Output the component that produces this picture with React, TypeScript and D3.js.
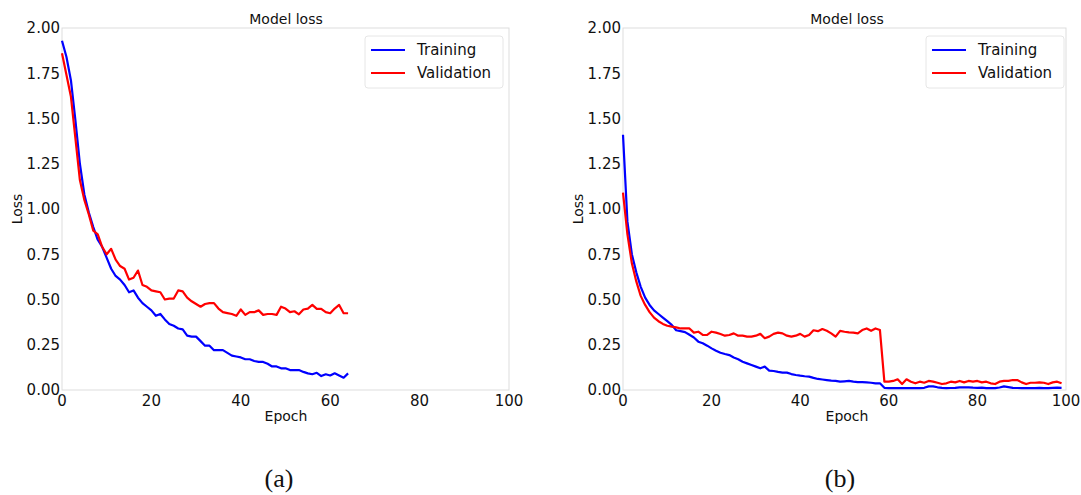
import React from 'react';
import * as d3 from 'd3';

// loss per epoch
const trainA = [1.93, 1.84, 1.71, 1.49, 1.25, 1.08, 0.98, 0.9, 0.83, 0.79, 0.73, 0.67, 0.63, 0.61, 0.58, 0.54, 0.55, 0.51, 0.48, 0.46,
  0.44, 0.41, 0.42, 0.39, 0.365, 0.355, 0.34, 0.335, 0.3, 0.295, 0.295, 0.27, 0.245, 0.245, 0.22, 0.22, 0.22, 0.205, 0.19, 0.185,
  0.18, 0.17, 0.17, 0.16, 0.155, 0.155, 0.145, 0.13, 0.13, 0.12, 0.12, 0.11, 0.11, 0.11, 0.1, 0.092, 0.087, 0.095, 0.077, 0.087,
  0.08, 0.092, 0.08, 0.068, 0.092];
const valA = [1.86, 1.74, 1.62, 1.39, 1.16, 1.05, 0.97, 0.88, 0.86, 0.79, 0.75, 0.78, 0.72, 0.685, 0.67, 0.61, 0.62, 0.66, 0.58, 0.57,
  0.55, 0.545, 0.54, 0.5, 0.505, 0.505, 0.55, 0.545, 0.51, 0.49, 0.475, 0.46, 0.475, 0.48, 0.48, 0.45, 0.43, 0.425, 0.42, 0.41,
  0.445, 0.415, 0.43, 0.43, 0.44, 0.415, 0.42, 0.42, 0.415, 0.46, 0.45, 0.43, 0.435, 0.418, 0.445, 0.45, 0.47, 0.448, 0.448, 0.43,
  0.424, 0.45, 0.47, 0.424, 0.424];

const trainB = [1.41, 0.93, 0.75, 0.65, 0.57, 0.51, 0.47, 0.44, 0.42, 0.4, 0.38, 0.36, 0.33, 0.325, 0.32, 0.305, 0.29, 0.267, 0.258, 0.245,
  0.23, 0.217, 0.206, 0.199, 0.193, 0.18, 0.17, 0.156, 0.147, 0.138, 0.129, 0.12, 0.129, 0.107, 0.105, 0.1, 0.096, 0.096, 0.088, 0.083,
  0.079, 0.076, 0.074, 0.067, 0.061, 0.058, 0.055, 0.052, 0.05, 0.046, 0.048, 0.05, 0.046, 0.044, 0.043, 0.042, 0.04, 0.037, 0.037, 0.012,
  0.01, 0.01, 0.011, 0.01, 0.01, 0.01, 0.011, 0.01, 0.012, 0.02, 0.02, 0.015, 0.012, 0.01, 0.011, 0.012, 0.015, 0.015, 0.015, 0.013,
  0.012, 0.013, 0.01, 0.01, 0.01, 0.014, 0.02, 0.016, 0.012, 0.011, 0.01, 0.01, 0.011, 0.01, 0.012, 0.01, 0.01, 0.012, 0.013, 0.012];
const valB = [1.09, 0.86, 0.7, 0.6, 0.52, 0.47, 0.43, 0.4, 0.38, 0.365, 0.355, 0.35, 0.346, 0.34, 0.34, 0.34, 0.317, 0.322, 0.304, 0.304,
  0.322, 0.317, 0.309, 0.3, 0.304, 0.313, 0.3, 0.3, 0.295, 0.295, 0.3, 0.31, 0.286, 0.295, 0.31, 0.317, 0.313, 0.3, 0.295, 0.3,
  0.31, 0.295, 0.304, 0.33, 0.325, 0.337, 0.327, 0.313, 0.295, 0.327, 0.322, 0.318, 0.317, 0.313, 0.331, 0.34, 0.327, 0.34, 0.331, 0.046,
  0.046, 0.05, 0.059, 0.033, 0.059, 0.046, 0.037, 0.046, 0.04, 0.05, 0.046, 0.04, 0.033, 0.037, 0.046, 0.042, 0.05, 0.042, 0.05, 0.046,
  0.05, 0.042, 0.046, 0.037, 0.033, 0.046, 0.05, 0.05, 0.055, 0.055, 0.042, 0.033, 0.04, 0.04, 0.042, 0.04, 0.033, 0.042, 0.046, 0.037];

const xTicks = [0, 20, 40, 60, 80, 100];
const yTicks = [0, 0.25, 0.5, 0.75, 1.0, 1.25, 1.5, 1.75, 2.0];
const seriesNames = ['Training', 'Validation'];
const seriesColors = ['#0000ff', '#ff0000'];

const FONT = 'DejaVu Sans, sans-serif';

function Panel({ left, w, train, val, caption }) {
  const top = 28;
  const h = 362;
  const x = d3.scaleLinear().domain([0, 100]).range([left, left + w]);
  const y = d3.scaleLinear().domain([0, 2]).range([top + h, top]);
  const line = d3
    .line<number>()
    .x((d, i) => x(i))
    .y((d) => y(d));
  const lx = left + 303;

  return (
    <g>
      <rect x={left} y={top} width={w} height={h} fill="none" stroke="#dddddd" strokeWidth={1} />
      <text x={left + 224} y={top - 4} textAnchor="middle" fontSize={14} fontFamily={FONT} fill="#111">
        Model loss
      </text>
      {yTicks.map((t) => (
        <text key={t} x={left - 2} y={y(t)} dy="0.36em" textAnchor="end" fontSize={15} fontFamily={FONT} fill="#111">
          {t.toFixed(2)}
        </text>
      ))}
      {xTicks.map((t) => (
        <text key={t} x={x(t)} y={top + h + 16} textAnchor="middle" fontSize={15} fontFamily={FONT} fill="#111">
          {t}
        </text>
      ))}
      <text x={left + 224} y={top + h + 31} textAnchor="middle" fontSize={14} fontFamily={FONT} fill="#111">
        Epoch
      </text>
      <text
        transform={`translate(${left - 40}, ${top + h / 2}) rotate(-90)`}
        textAnchor="middle"
        fontSize={14}
        fontFamily={FONT}
        fill="#111"
      >
        Loss
      </text>
      <path d={line(train)} fill="none" stroke={seriesColors[0]} strokeWidth={2.2} strokeLinejoin="round" />
      <path d={line(val)} fill="none" stroke={seriesColors[1]} strokeWidth={2.2} strokeLinejoin="round" />
      <rect x={lx} y={36} width={138} height={52} rx={3} fill="#fff" fillOpacity={0.8} stroke="#e6e6e6" />
      {seriesNames.map((name, i) => (
        <g key={name}>
          <line x1={lx + 6} x2={lx + 40} y1={50 + i * 23} y2={50 + i * 23} stroke={seriesColors[i]} strokeWidth={2.2} />
          <text x={lx + 52} y={50 + i * 23} dy="0.36em" fontSize={15} fontFamily={FONT} fill="#111">
            {name}
          </text>
        </g>
      ))}
      <text x={left + 217} y={487} textAnchor="middle" fontSize={26} fontFamily="Liberation Serif, serif" fill="#111">
        {caption}
      </text>
    </g>
  );
}

export default function App() {
  return (
    <svg width={1081} height={495} style={{ position: 'absolute', left: 0, top: 0, background: '#fff' }}>
      <Panel left={62} w={447} train={trainA} val={valA} caption="(a)" />
      <Panel left={623} w={443} train={trainB} val={valB} caption="(b)" />
    </svg>
  );
}
